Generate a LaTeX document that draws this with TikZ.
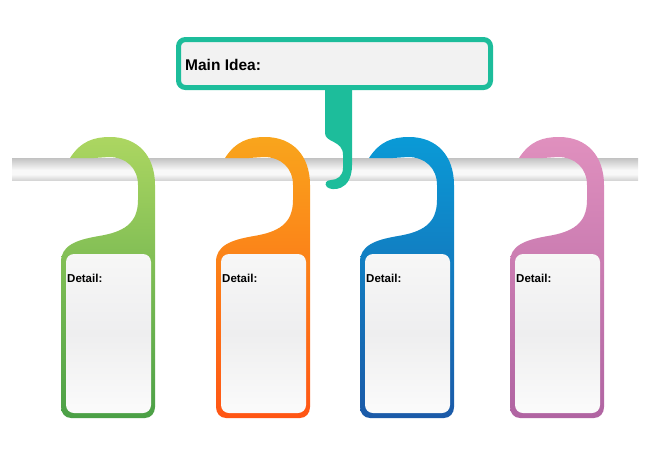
\documentclass[tikz,border=0pt]{standalone}
\usepackage{fontspec}
\setmainfont{Liberation Sans}
\definecolor{teal1}{HTML}{1DBD9B}
\definecolor{boxfill}{HTML}{F2F2F2}
\definecolor{gtop}{HTML}{ACD661}
\definecolor{gbot}{HTML}{4BA046}
\definecolor{otop}{HTML}{F9A51C}
\definecolor{obot}{HTML}{FF5514}
\definecolor{btop}{HTML}{0A9AD6}
\definecolor{bbot}{HTML}{1B5AA8}
\definecolor{ptop}{HTML}{E090BE}
\definecolor{pbot}{HTML}{B064A2}
\definecolor{bargA}{HTML}{C2C2C2}
\definecolor{bargB}{HTML}{D6D6D6}
\definecolor{barW}{HTML}{F8F8F8}
\definecolor{cardtop}{HTML}{F7F7F7}
\definecolor{cardmid}{HTML}{EEEEEF}
\definecolor{cardbot}{HTML}{FBFBFB}
\pgfdeclareverticalshading{barshade}{100bp}{color(0bp)=(bargB); color(25bp)=(bargB); color(38bp)=(barW); color(48bp)=(barW); color(75bp)=(bargA); color(100bp)=(bargA)}
\tikzset{
  cardbox/.style={top color=cardtop, bottom color=cardbot, middle color=cardmid, rounded corners=8pt},
  detailtext/.style={anchor=base west, inner sep=0pt, font=\bfseries\fontsize{11.5}{13}\selectfont},
  maintext/.style={anchor=base west, inner sep=0pt, font=\bfseries\fontsize{15.5}{18}\selectfont},
}
\begin{document}
\begin{tikzpicture}[x=1pt,y=-1pt]
\useasboundingbox (0,0) rectangle (650,456);
% bar
\shade[shading=barshade] (12,158) rectangle (638,180);
% hangers
\foreach \xo/\tc/\bc/\nm in {61/gtop/gbot/g, 216/otop/obot/o, 360/btop/bbot/b, 510/ptop/pbot/p}{
  \begin{scope}[shift={(\xo,0)}]
    \shade[top color=\tc, bottom color=\bc]
      (9,158) .. controls (20,141) and (33,137) .. (49,137)
      .. controls (77,137) and (94,156) .. (94,185)
      -- (94,407) .. controls (94,413) and (90,418) .. (84,418)
      -- (10,418) .. controls (4,418) and (0,413) .. (0,407)
      -- (0,262) .. controls (0,246) and (14,240) .. (38,236)
      .. controls (62,232) and (77,224) .. (77,200)
      -- (77,185) .. controls (77,168) and (65,157) .. (48,157)
      -- (33,158) -- cycle;
    \shade[cardbox] (5,254) rectangle (90,413);
    \node[detailtext] (detail\nm) at (6,282) {Detail:};
  \end{scope}
}
% teal hook
\fill[teal1] (325,85) -- (325,133) .. controls (325,143) and (343,140) .. (343,155)
  -- (343,168) .. controls (343,176) and (337,180) .. (331,180)
  .. controls (326,180) and (324,184) .. (327,187)
  .. controls (331,191) and (352,192) .. (352,165) -- (352,85) -- cycle;
% main box
\draw[teal1, line width=5pt, fill=boxfill, rounded corners=7pt] (178.5,39.5) rectangle (490.5,87.5);
\node[maintext] (mainidea) at (185,70) {Main Idea:};
\end{tikzpicture}
\end{document}
